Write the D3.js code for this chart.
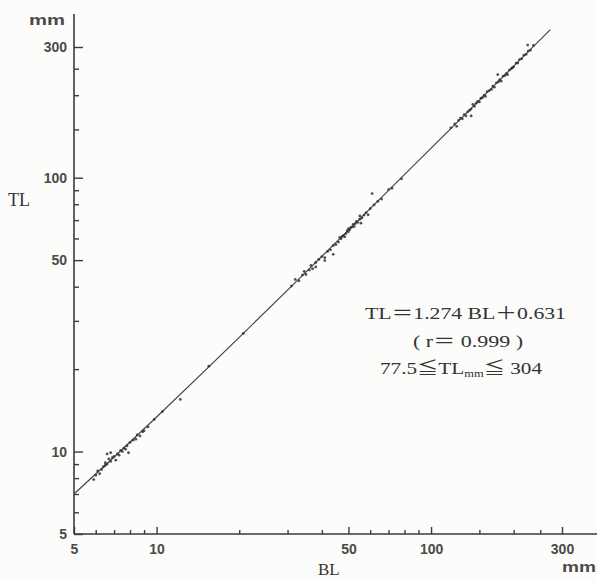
<!DOCTYPE html>
<html>
<head>
<meta charset="utf-8">
<script src="https://cdn.jsdelivr.net/npm/d3@7"></script>
<style>
  body { margin: 0; background: #fcfcfa; }
  svg { display: block; }
  .tick-label { font-family: "Liberation Sans", Arial, sans-serif; font-weight: bold; font-size: 14px; fill: #4a4a4a; }
  .serif { font-family: "Liberation Serif", "Times New Roman", "Noto Sans CJK JP", serif; fill: #333; }
</style>
</head>
<body>
<div id="chart"></div>
<script>
// Tick values (log axes, both the same)
var majorTicks = [5, 10, 50, 100, 300];
var minorTicks = [6, 7, 8, 9, 20, 30, 40, 60, 70, 80, 90, 150, 200, 250];

// Regression: TL = 1.274 BL + 0.631
var slope = 1.274;
var intercept = 0.631;
var fitBL = [5, 7, 10, 15, 20, 30, 50, 80, 120, 180, 272];

var bl = [5.9, 6.0, 6.1, 6.2, 6.3, 6.4, 6.5, 6.5, 6.6, 6.6, 6.7, 6.8, 6.8, 6.9, 7.0, 7.1, 7.2, 7.3, 7.4, 7.5,
  7.6, 7.7, 7.8, 7.9, 8.0, 8.2, 8.4, 8.5, 8.7, 8.9, 9.0, 9.3, 9.8, 10.5, 12.2, 15.5, 20.7,
  31, 32, 33, 34, 34.5, 35, 36, 36.5, 37, 38, 38, 39, 40, 41, 41, 42, 43, 44, 44, 45,
  46, 46.5, 47, 47.5, 48, 48.5, 49, 49.5, 50, 50, 50.5, 51, 51.5, 52, 52.5, 53, 53.5, 54,
  55, 55, 55.5, 56, 57, 58, 59, 60, 61, 62, 64, 66, 70, 72, 78,
  118, 122, 124, 126, 128, 130, 132, 134, 136, 138, 140, 140, 142, 144, 146, 148, 150, 152,
  154, 156, 158, 160, 163, 166, 168, 170, 173, 175, 176, 178, 180, 183, 186, 188, 190, 193,
  196, 198, 200, 204, 207, 210, 214, 218, 222, 225, 226, 230, 236];
var tl = [7.9, 8.2, 8.5, 8.3, 8.6, 8.8, 9.1, 8.9, 9.0, 9.8, 9.4, 9.2, 9.9, 9.5, 9.6, 9.3, 9.8, 9.7, 10.1, 10.0,
  10.3, 10.2, 10.5, 9.9, 10.8, 11.0, 11.1, 11.5, 11.4, 11.8, 11.9, 12.3, 13.1, 14.0, 15.5, 20.5, 27.0,
  40.2, 42.5, 42.0, 44.1, 45.5, 44.3, 46.0, 47.8, 46.5, 49.0, 47.2, 50.3, 51.5, 51.0, 49.8, 53.8, 54.5, 56.5, 52.5, 57.0,
  58.2, 60.5, 59.8, 61.0, 61.5, 60.8, 62.5, 64.0, 63.5, 65.2, 64.5, 65.8, 66.0, 67.5, 66.3, 68.0, 69.2, 68.7,
  70.5, 72.5, 68.2, 71.3, 73.0, 74.5, 73.2, 77.0, 87.5, 79.5, 82.0, 83.5, 90.5, 91.5, 99.0,
  152, 157, 154, 162, 165, 164, 170, 168, 174, 176, 178, 168, 185, 182, 187, 190, 189, 195,
  196, 200, 198, 206, 208, 210, 216, 214, 222, 238, 224, 228, 225, 235, 236, 240, 238, 247,
  250, 252, 254, 262, 262, 270, 272, 280, 282, 305, 290, 292, 304];

var svgWidth = 597;
var svgHeight = 581;

var svg = d3.select("#chart").append("svg")
  .attr("width", svgWidth)
  .attr("height", svgHeight);

// Log scales fitted to the scan's axis positions
var x = d3.scaleLog().domain([5, 300]).range([74, 562]);
var y = d3.scaleLog().domain([5, 300]).range([534, 47]);

var ink = "#3a3a3a";

// Axis lines
svg.append("line").attr("x1", 74).attr("x2", 74).attr("y1", 14).attr("y2", 534)
  .attr("stroke", ink).attr("stroke-width", 1.6);
svg.append("line").attr("x1", 74).attr("x2", 597).attr("y1", 534).attr("y2", 534)
  .attr("stroke", ink).attr("stroke-width", 1.6);

// Y axis: ticks point inward (right)
var yMajor = svg.append("g").attr("transform", "translate(74,0)")
  .call(d3.axisLeft(y).tickValues(majorTicks).tickFormat(d3.format("d")).tickSizeInner(-9).tickSizeOuter(0).tickPadding(7));
var yMinor = svg.append("g").attr("transform", "translate(74,0)")
  .call(d3.axisLeft(y).tickValues(minorTicks).tickFormat("").tickSizeInner(-5).tickSizeOuter(0));

// X axis: ticks point inward (up)
var xMajor = svg.append("g").attr("transform", "translate(0,534)")
  .call(d3.axisBottom(x).tickValues(majorTicks).tickFormat(d3.format("d")).tickSizeInner(-7).tickSizeOuter(0).tickPadding(10));
var xMinor = svg.append("g").attr("transform", "translate(0,534)")
  .call(d3.axisBottom(x).tickValues(minorTicks).tickFormat("").tickSizeInner(-4).tickSizeOuter(0));

[yMajor, yMinor, xMajor, xMinor].forEach(function(g) {
  g.select(".domain").remove();
  g.selectAll(".tick line").attr("stroke", ink).attr("stroke-width", 1.4);
  g.selectAll(".tick text").attr("class", "tick-label").attr("font-family", null).attr("font-size", null).attr("fill", null);
});
xMajor.selectAll(".tick text").attr("dy", "0.71em");

// Fitted line
var fitLine = d3.line()
  .x(function(d) { return x(d); })
  .y(function(d) { return y(slope * d + intercept); });
svg.append("path")
  .datum(fitBL)
  .attr("d", fitLine)
  .attr("fill", "none")
  .attr("stroke", "#444")
  .attr("stroke-width", 1.2);

// Points
svg.append("g").selectAll("circle")
  .data(bl)
  .enter()
  .append("circle")
  .attr("cx", function(d) { return x(d); })
  .attr("cy", function(d, i) { return y(tl[i]); })
  .attr("r", 1.4)
  .attr("fill", "#333")
  .attr("opacity", 0.85);

// Units and axis titles
svg.append("text").attr("class", "tick-label").attr("x", 29).attr("y", 25)
  .attr("textLength", 36).attr("lengthAdjust", "spacingAndGlyphs").text("mm");
svg.append("text").attr("class", "tick-label").attr("x", 562).attr("y", 572)
  .attr("textLength", 34).attr("lengthAdjust", "spacingAndGlyphs").text("mm");
svg.append("text").attr("class", "serif").attr("x", 8).attr("y", 206)
  .attr("font-size", 18).text("TL");
svg.append("text").attr("class", "serif").attr("x", 318).attr("y", 575)
  .attr("font-size", 17).text("BL");

// Equation block
var eq = svg.append("g").attr("class", "serif").attr("font-size", 17);
eq.append("text").attr("x", 365).attr("y", 319).text("TL＝1.274 BL＋0.631")
  .attr("textLength", 201).attr("lengthAdjust", "spacingAndGlyphs");
eq.append("text").attr("x", 413).attr("y", 347).text("( r＝ 0.999 )")
  .attr("textLength", 110).attr("lengthAdjust", "spacingAndGlyphs");
var range = eq.append("text").attr("x", 380).attr("y", 374)
  .attr("textLength", 162).attr("lengthAdjust", "spacingAndGlyphs");
range.append("tspan").text("77.5≦TL");
range.append("tspan").attr("font-size", 10).attr("dy", 3).text("mm");
range.append("tspan").attr("dy", -3).text("≦ 304");
</script>
</body>
</html>
